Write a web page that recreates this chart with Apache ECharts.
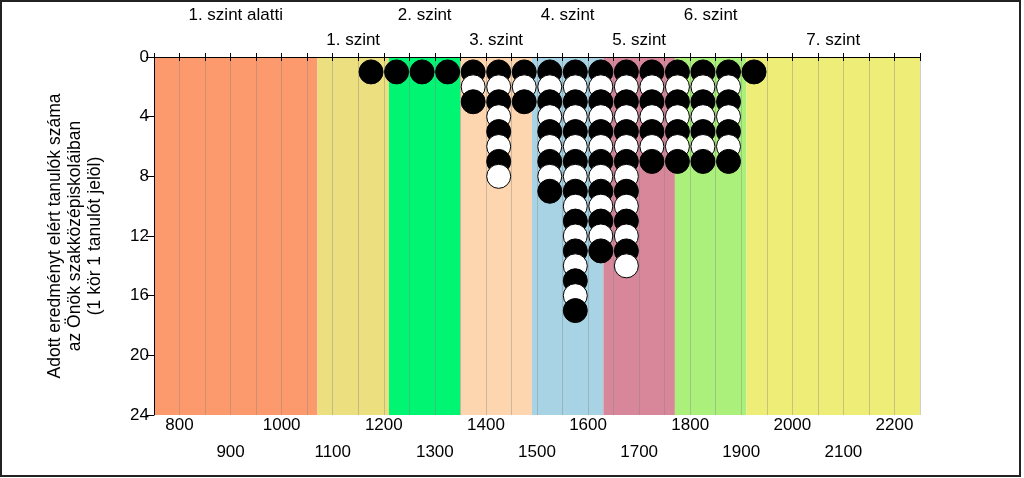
<!DOCTYPE html>
<html>
<head>
<meta charset="utf-8">
<script src="https://cdn.jsdelivr.net/npm/echarts@6/dist/echarts.min.js"></script>
<style>
html,body{margin:0;padding:0;background:#fff;}
#chart{width:1024px;height:478px;}
</style>
</head>
<body>
<div id="chart"></div>
<script>
// ---- data ----
var binCenters = [1175,1225,1275,1325,1375,1425,1475,1525,1575,1625,1675,1725,1775,1825,1875,1925];
var counts     = [1,   1,   1,   1,   3,   8,   3,   9,   17,  13,  14,  7,   7,   7,   7,   1];
var bandStarts = [750, 1070, 1210, 1350, 1490, 1630, 1770, 1910];
var bandEnds   = [1070,1210, 1350, 1490, 1630, 1770, 1910, 2250];
var bandLabels = ['1. szint alatti','1. szint','2. szint','3. szint','4. szint','5. szint','6. szint','7. szint'];
var bandRows   = [0,1,0,1,0,1,0,1];
var bandColors = ['#FC9A6E','#ECDF80','#00F572','#FDD5AE','#A7D3E4','#D8879B','#AAF07B','#EDED77'];
var yTitle = 'Adott eredményt elért tanulók száma\naz Önök szakközépiskoláiban\n(1 kör 1 tanulót jelöl)';

var FONT = '"Liberation Sans", Arial, sans-serif';

var bandData = bandStarts.map(function(s,i){ return [s, bandEnds[i], bandRows[i]]; });
var dots = [];
binCenters.forEach(function(x,i){
  for (var k=1;k<=counts[i];k++){
    dots.push({value:[x,k], itemStyle:{color: (k%2===1)?'#000000':'#FFFFFF'}});
  }
});

var chart = echarts.init(document.getElementById('chart'), null, {renderer:'canvas'});
chart.setOption({
  animation:false,
  backgroundColor:'#ffffff',
  textStyle:{fontFamily:FONT},
  grid:{left:154, top:57, width:766, height:358, containLabel:false},
  graphic:[{type:'rect', shape:{x:1,y:1,width:1019,height:475}, style:{fill:'none', stroke:'#222', lineWidth:2}, z:100}],
  xAxis:[{
    type:'value', min:750, max:2250, interval:50, position:'bottom', z:2,
    axisLine:{show:true, lineStyle:{color:'#000', width:1}},
    axisTick:{show:true, length:4, lineStyle:{color:'#000'}},
    axisLabel:{
      show:true, margin:-3, fontSize:17, color:'#000', fontFamily:FONT, lineHeight:27,
      formatter:function(v){ if (v%200===0) return String(v); if (v%100===0) return '\n'+v; return ''; }
    },
    splitLine:{show:true, lineStyle:{color:'rgba(130,130,130,0.38)', width:1}}
  },{
    type:'value', min:750, max:2250, interval:50, position:'top', z:2,
    axisLine:{show:true, lineStyle:{color:'#000', width:1}},
    axisTick:{show:true, length:4, lineStyle:{color:'#000'}},
    axisLabel:{show:false},
    splitLine:{show:false}
  }],
  yAxis:{
    type:'value', min:0, max:24, interval:4, inverse:true, z:2,
    name:yTitle, nameLocation:'middle', nameRotate:90, nameGap:49,
    nameTextStyle:{fontSize:17.5, color:'#000', lineHeight:20, fontFamily:FONT},
    axisLine:{show:true, lineStyle:{color:'#000'}},
    axisTick:{show:true, length:8, lineStyle:{color:'#000'}},
    axisLabel:{fontSize:17, color:'#000', margin:5, fontFamily:FONT},
    splitLine:{show:false}
  },
  series:[{
    type:'custom', z:1, xAxisIndex:0, yAxisIndex:0, clip:false,
    data:bandData,
    renderItem:function(params, api){
      var s = api.value(0), e = api.value(1), row = api.value(2);
      var p0 = api.coord([s,0]), p1 = api.coord([e,24]);
      return {type:'group', children:[
        {type:'rect', shape:{x:p0[0], y:p0[1], width:p1[0]-p0[0], height:p1[1]-p0[1]},
         style:{fill:bandColors[params.dataIndex]}},
        {type:'text', x:(p0[0]+p1[0])/2, y:p0[1]-(row===0?42:17),
         style:{text:bandLabels[params.dataIndex], fill:'#000', font:'17px '+FONT, align:'center', verticalAlign:'middle'}}
      ]};
    }
  },{
    type:'scatter', z:3, xAxisIndex:0, yAxisIndex:0,
    symbol:'circle', symbolSize:24,
    itemStyle:{borderColor:'#000', borderWidth:1, opacity:1},
    data:dots
  }]
});
</script>
</body>
</html>
